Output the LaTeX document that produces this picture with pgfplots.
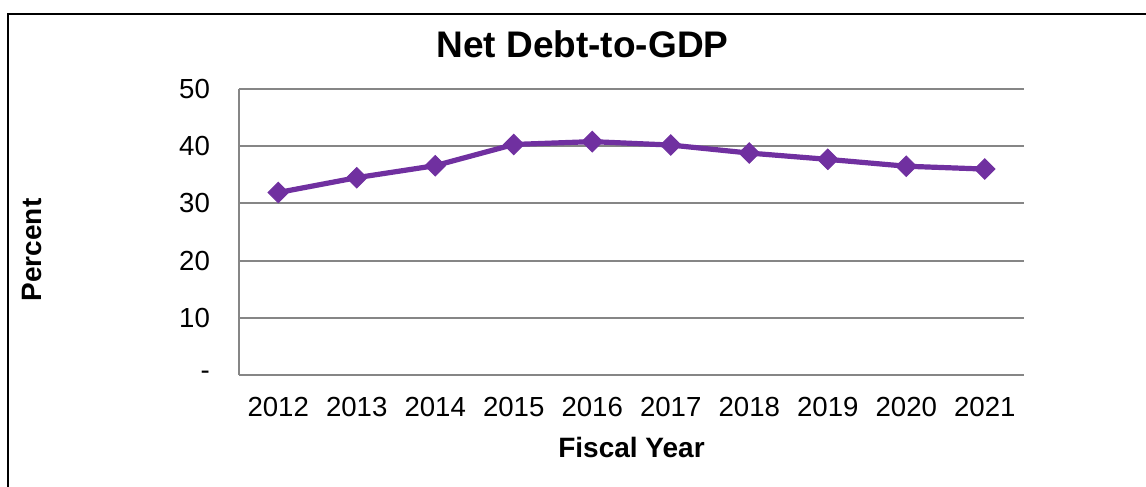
\documentclass[border=0pt]{standalone}
\usepackage{pgfplots}
\pgfplotsset{compat=1.18}
\usepackage{fontspec}
\setmainfont{Liberation Sans}
\definecolor{linepurple}{RGB}{112,48,160}
\definecolor{gridgray}{RGB}{134,134,134}
\pgfplotstableread{
x y
0 31.9
1 34.5
2 36.6
3 40.3
4 40.8
5 40.2
6 38.8
7 37.7
8 36.5
9 36.0
}\debt
\begin{document}
\begin{tikzpicture}[x=1pt,y=1pt]
\useasboundingbox (0,0) rectangle (573,243.5);
\draw[line width=1pt] (4.1,-5) -- (4.1,236.6) -- (580,236.6);
\begin{axis}[
  at={(119.5pt,56pt)}, anchor=south west,
  scale only axis, width=392.5pt, height=143pt,
  xmin=-0.5, xmax=9.5, ymin=0, ymax=50,
  xtick={0,1,2,3,4,5,6,7,8,9},
  xticklabels={2012,2013,2014,2015,2016,2017,2018,2019,2020,2021},
  ytick={0,10,20,30,40,50},
  yticklabels={-,10,20,30,40,50},
  axis lines*=left,
  axis line style={gridgray, line width=1pt},
  major tick length=0pt,
  ymajorgrids,
  grid style={gridgray, line width=1pt},
  /pgf/number format/assume math mode=true,
  tick label style={font=\fontsize{13.8}{16}\selectfont, black},
  xticklabel style={yshift=-7.5pt},
  yticklabel style={xshift=-11pt},
  title={Net Debt-to-GDP},
  title style={at={(axis description cs:0.4376,1.115)}, anchor=center, font=\bfseries\fontsize{18.5}{22}\selectfont},
  xlabel={Fiscal Year},
  xlabel style={at={(axis description cs:0.5,-0.252)}, anchor=center, font=\bfseries\fontsize{14}{16}\selectfont},
  ylabel={Percent},
  ylabel style={at={(axis description cs:-0.2637,0.437)}, anchor=center, rotate=0, font=\bfseries\fontsize{14}{16}\selectfont},
  clip=false,
]
\addplot[linepurple, line width=2.6pt, mark=square*, mark size=3.6pt,
  mark options={rotate=45, solid, line width=0.5pt, fill=linepurple}] table[x=x,y=y] {\debt};
\end{axis}
\end{tikzpicture}
\end{document}
